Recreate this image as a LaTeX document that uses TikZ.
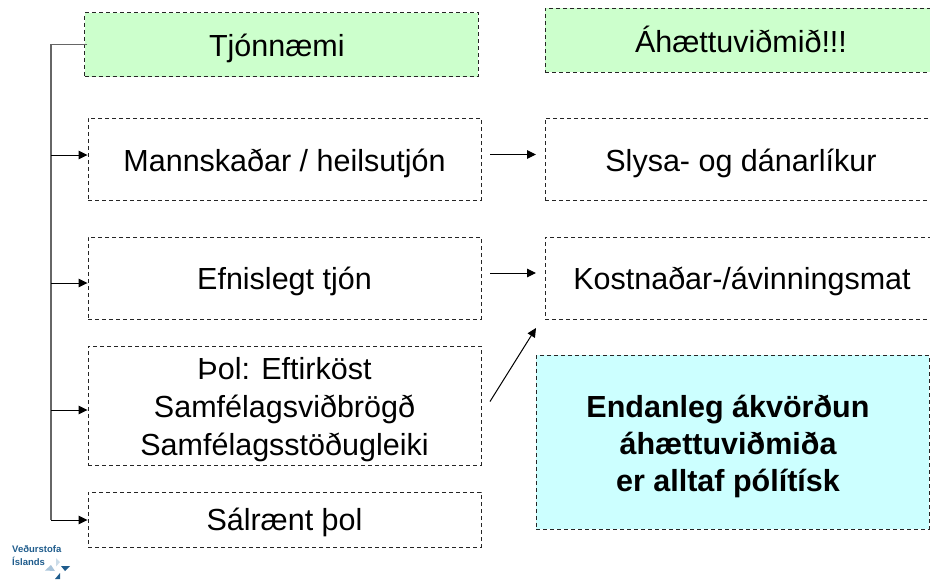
\documentclass[tikz,border=0pt]{standalone}
\usepackage{fontspec}
\setmainfont{Liberation Sans}
\usetikzlibrary{arrows.meta}
\definecolor{grn}{HTML}{CCFFCC}
\definecolor{cyn}{HTML}{CCFFFF}
\definecolor{logob}{HTML}{1F5C8C}
\definecolor{logol}{HTML}{A9C4DA}
\tikzset{
  x=1pt,y=-1pt,
  box/.style={draw=black!85,line width=0.9pt,dash pattern=on 4pt off 3pt,align=center,inner sep=0pt,
    font=\fontsize{30.5}{38}\selectfont},
  trunk/.style={draw=black!60,line width=1.5pt},
  link/.style={draw=black,line width=1pt,-{Triangle[length=9pt,width=8.5pt]},shorten >=0pt},
}
\newcommand{\st}[1]{\rule[\dimexpr #1pt-11.4pt\relax]{0pt}{38pt}}
\newcommand{\sbold}[1]{\rule[\dimexpr #1pt-11.1pt\relax]{0pt}{37pt}\hspace*{-9pt}}
\begin{document}
\begin{tikzpicture}
\useasboundingbox (0,0) rectangle (930,579);
\node[box,fill=grn,minimum width=393.5pt,minimum height=64pt] (tj) at (281.3,44.5) {\st{4}\hspace*{-9pt}Tjónnæmi};
\node[box,fill=grn,minimum width=392pt,minimum height=64pt] (ah) at (741,40) {\st{4.5}Áhættuviðmið!!!};
\node[box,minimum width=393pt,minimum height=82pt] (ma) at (284.5,159) {\st{5}Mannskaðar / heilsutjón};
\node[box,minimum width=392pt,minimum height=82pt] (sl) at (741,159) {\st{5}Slysa- og dánarlíkur};
\node[box,minimum width=393pt,minimum height=82pt] (ef) at (284.5,278) {\st{3.5}Efnislegt tjón};
\node[box,minimum width=394pt,minimum height=82pt] (ko) at (742,278) {\st{3.5}Kostnaðar-/ávinningsmat};
\node[box,minimum width=393pt,minimum height=119pt] (th) at (284.5,405.5) {\st{4}Þol: Eftirköst\\\st{4}Samfélagsviðbrögð\\\st{4}Samfélagsstöðugleiki};
\node[box,minimum width=393pt,minimum height=55pt] (sa) at (284.5,519.5) {\st{3.5}Sálrænt þol};
\node[box,fill=cyn,minimum width=393pt,minimum height=173.5pt,font=\fontsize{30.5}{37}\selectfont\bfseries] (en) at (732.5,442.2) {\sbold{4.4}Endanleg ákvörðun\\\sbold{4.4}áhættuviðmiða\\\sbold{4.4}er alltaf pólítísk};
% connectors
\coordinate (tb) at (51,520);
\coordinate (ma1) at (51,155);
\coordinate (ef1) at (51,283);
\coordinate (th1) at (51,410);
\draw[trunk] ([xshift=3pt]tj.west) -| (tb);
\draw[link] (ma1) -- (ma1 -| ma.west);
\draw[link] (ef1) -- (ef1 -| ef.west);
\draw[link] (th1) -- (th1 -| th.west);
\draw[link] (tb) -- (tb -| sa.west);
\coordinate (a1) at (490,154.5);
\coordinate (a1e) at (536,154.5);
\coordinate (a2) at (490,273);
\coordinate (a2e) at (536,273);
\coordinate (a3) at (490,401.5);
\coordinate (a3e) at (536,328);
\draw[link] (a1) -- (a1e);
\draw[link] (a2) -- (a2e);
\draw[link] (a3) -- (a3e);
% logo
\node[anchor=west,inner sep=0pt,text=logob,align=left,font=\fontsize{9.5}{13}\selectfont\bfseries] (lg) at (12,555.5) {Veðurstofa\\Íslands};
\fill[logol!60] (56,558) -- (60,562) -- (56,566.5) -- cycle;
\fill[logol] (45,570.5) -- (51,565) -- (55,571) -- cycle;
\fill[logob] (61,566) -- (70,566) -- (65,571) -- cycle;
\fill[logob] (60,573) -- (60,579) -- (55,579) -- cycle;
\end{tikzpicture}
\end{document}
